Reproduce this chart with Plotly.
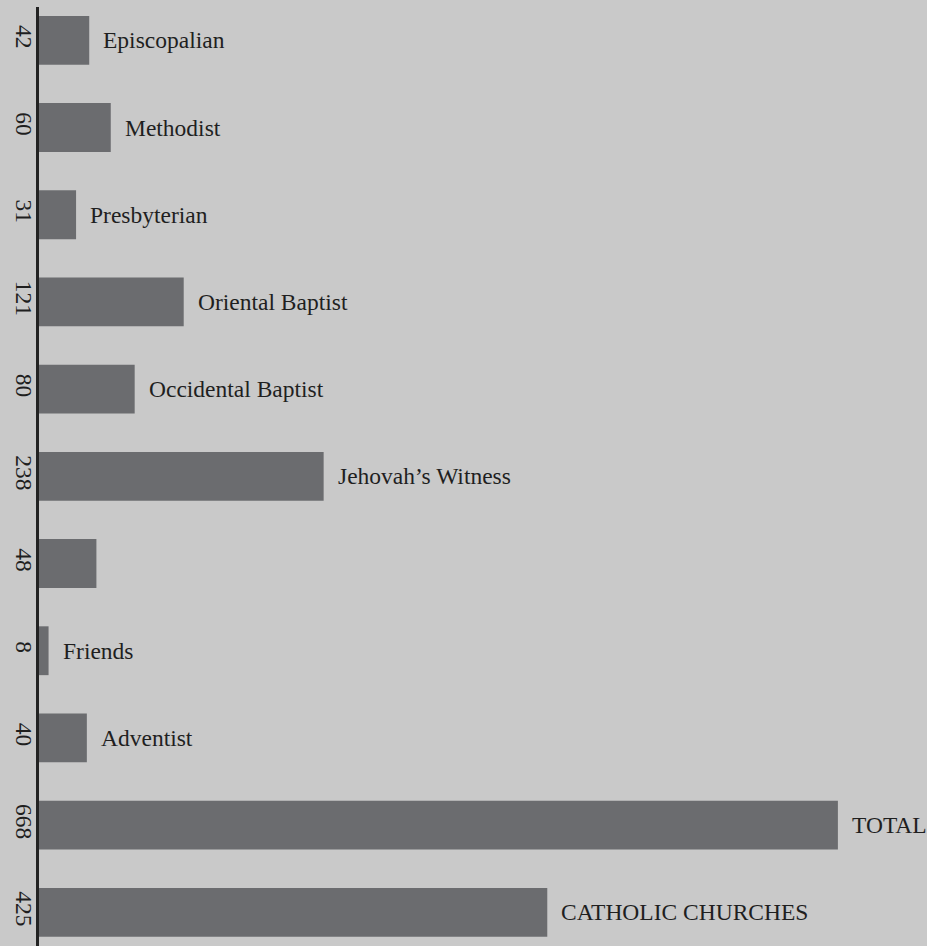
"""
Church counts by denomination - horizontal bar chart
"""
import plotly.graph_objects as go

# values shown rotated on the left axis
counts = [42, 60, 31, 121, 80, 238, 48, 8, 40, 668, 425]
# labels written next to each bar (one bar is unlabelled)
names = [
    "Episcopalian",
    "Methodist",
    "Presbyterian",
    "Oriental Baptist",
    "Occidental Baptist",
    "Jehovah\u2019s Witness",
    "",
    "Friends",
    "Adventist",
    "TOTAL",
    "CATHOLIC CHURCHES",
]
positions = list(range(len(counts)))

BG = "#c9c9c9"
BAR = "#6b6c6f"
INK = "#1f1f1f"
FONT = "Liberation Serif, Times New Roman, serif"

fig = go.Figure()

fig.add_trace(go.Bar(
    x=counts,
    y=positions,
    orientation="h",
    width=0.56,
    marker=dict(color=BAR, line=dict(width=0)),
    hoverinfo="skip",
))

# denomination names just past the end of each bar
for value, pos, name in zip(counts, positions, names):
    if not name:
        continue
    fig.add_annotation(
        x=value, y=pos, text=name,
        xanchor="left", yanchor="middle",
        xshift=12, showarrow=False,
        font=dict(family=FONT, size=23.5, color=INK),
    )

fig.update_layout(
    width=927,
    height=946,
    margin=dict(l=39, r=0, t=7, b=0),
    paper_bgcolor=BG,
    plot_bgcolor=BG,
    showlegend=False,
    font=dict(family=FONT, size=23.5, color=INK),
    xaxis=dict(
        range=[0, 742.5],
        visible=False,
        showgrid=False,
        zeroline=False,
        fixedrange=True,
    ),
    yaxis=dict(
        range=[10.386, -0.382],
        tickmode="array",
        tickvals=positions,
        ticktext=[str(c) for c in counts],
        tickangle=90,
        ticks="",
        ticklabelstandoff=-8,
        showline=True,
        linecolor="#222222",
        linewidth=2.5,
        showgrid=False,
        zeroline=False,
        tickfont=dict(family=FONT, size=23.5, color=INK),
        fixedrange=True,
    ),
)

# drop the page's default body margin so the figure fills the window
fig.write_html(
    "out.html",
    config={"displayModeBar": False},
    post_script="document.body.style.margin='0';document.body.style.overflow='hidden';",
)
